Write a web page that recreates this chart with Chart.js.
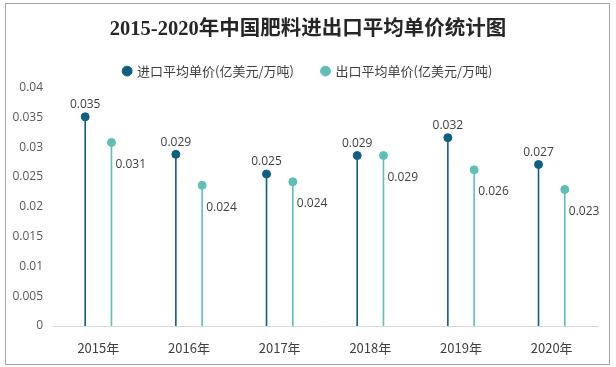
<!DOCTYPE html>
<html>
<head>
<meta charset="utf-8">
<script src="https://cdn.jsdelivr.net/npm/chart.js@4/dist/chart.umd.min.js"></script>
<style>
  html, body { margin: 0; padding: 0; background: #fff; }
  #wrap { position: relative; width: 616px; height: 367px; }
  #frame { position: absolute; left: 5px; top: 3px; width: 603px; height: 360px; border: 1px solid #a6a6a6; pointer-events: none; }
</style>
</head>
<body>
<div id="wrap">
  <canvas id="myChart" width="616" height="367"></canvas>
  <div id="frame"></div>
</div>
<script>
// data
let years = ['2015年', '2016年', '2017年', '2018年', '2019年', '2020年'];
let importPrice = [0.0351, 0.0288, 0.0255, 0.0286, 0.0316, 0.0271];
let exportPrice = [0.0308, 0.0236, 0.0242, 0.0286, 0.0262, 0.0229];
let importLabels = ['0.035', '0.029', '0.025', '0.029', '0.032', '0.027'];
let exportLabels = ['0.031', '0.024', '0.024', '0.029', '0.026', '0.023'];
let yTicks = [0, 0.005, 0.01, 0.015, 0.02, 0.025, 0.03, 0.035, 0.04];

const IMPORT_NAME = '进口平均单价(亿美元/万吨)';
const EXPORT_NAME = '出口平均单价(亿美元/万吨)';
const DARK = '#0f5f80';
const LIGHT = '#5fbfb6';
const SHIFT = 0.145; // stems sit this far left/right of the year, in category units

function toPoints(arr, dx) {
    return arr.map(function (v, i) { return { x: i + dx, y: v }; });
}

// stems: vertical segment from 0 up to the value, gap between years
function toStems(arr, dx) {
    let out = [];
    arr.forEach(function (v, i) {
        out.push({ x: i + dx, y: 0 }, { x: i + dx, y: v }, { x: i + dx, y: null });
    });
    return out;
}

// value labels next to the dots
const valueLabels = {
    id: 'valueLabels',
    afterDatasetsDraw(chart) {
        const ctx = chart.ctx;
        ctx.save();
        ctx.font = '12px "Open Sans", "Noto Sans", sans-serif';
        ctx.fillStyle = '#404040';
        chart.getDatasetMeta(0).data.forEach(function (pt, i) {
            ctx.textAlign = 'center';
            ctx.textBaseline = 'bottom';
            ctx.fillText(importLabels[i], pt.x, pt.y - 6);
        });
        chart.getDatasetMeta(1).data.forEach(function (pt, i) {
            ctx.textAlign = 'left';
            ctx.textBaseline = 'middle';
            ctx.fillText(exportLabels[i], pt.x + 4, pt.y + 22);
        });
        ctx.restore();
    }
};

var ctx = document.getElementById('myChart');
var myChart = new Chart(ctx, {
    type: 'line',
    data: {
        datasets: [
            { label: IMPORT_NAME, data: toPoints(importPrice, -SHIFT), showLine: false,
              pointRadius: 4, pointBackgroundColor: DARK, pointBorderColor: DARK,
              backgroundColor: DARK, borderColor: DARK, order: 0 },
            { label: EXPORT_NAME, data: toPoints(exportPrice, SHIFT), showLine: false,
              pointRadius: 4, pointBackgroundColor: LIGHT, pointBorderColor: LIGHT,
              backgroundColor: LIGHT, borderColor: LIGHT, order: 1 },
            { label: 'stem1', data: toStems(importPrice, -SHIFT), borderColor: DARK,
              borderWidth: 1.6, pointRadius: 0, spanGaps: false, order: 2 },
            { label: 'stem2', data: toStems(exportPrice, SHIFT), borderColor: LIGHT,
              borderWidth: 1.6, pointRadius: 0, spanGaps: false, order: 3 }
        ]
    },
    options: {
        responsive: false,
        animation: false,
        events: [],
        layout: { padding: { left: 0, right: 0, top: 17, bottom: 11 } },
        plugins: {
            title: {
                display: true,
                text: '2015-2020年中国肥料进出口平均单价统计图',
                color: '#262626',
                font: { family: '"Liberation Serif", "Noto Sans CJK SC", serif', size: 20.5, weight: 'bold' },
                padding: { top: 0, bottom: -5 }
            },
            legend: {
                labels: {
                    filter: function (item) { return item.datasetIndex < 2; },
                    usePointStyle: true,
                    pointStyle: 'circle',
                    boxWidth: 7,
                    boxHeight: 7,
                    padding: 28,
                    color: '#404040',
                    font: { family: '"Noto Sans CJK SC", sans-serif', size: 13 }
                }
            },
            tooltip: { enabled: false }
        },
        scales: {
            x: {
                type: 'linear',
                min: -0.5,
                max: years.length - 0.5,
                afterBuildTicks: function (scale) {
                    scale.ticks = years.map(function (y, i) { return { value: i }; });
                },
                afterFit: function (scale) { scale.height = 30; },
                grid: { display: false, drawTicks: false },
                border: { display: true, color: '#d9d9d9' },
                ticks: { color: '#404040', padding: 14, maxRotation: 0, autoSkip: false,
                         font: { family: '"Noto Sans CJK SC", sans-serif', size: 13 },
                         callback: function (v) { return years[v]; } }
            },
            y: {
                min: 0,
                max: 0.04,
                afterFit: function (scale) { scale.width = 53; },
                afterBuildTicks: function (scale) {
                    scale.ticks = yTicks.map(function (v) { return { value: v }; });
                },
                grid: { display: false, drawTicks: false },
                border: { display: false },
                ticks: {
                    padding: 10,
                    color: '#595959',
                    font: { family: '"Open Sans", "Noto Sans", sans-serif', size: 12 },
                    callback: function (v) { return String(+v.toFixed(3)); }
                }
            },
            yRight: {
                position: 'right',
                min: 0,
                max: 0.04,
                afterFit: function (scale) { scale.width = 19; },
                grid: { display: false, drawTicks: false },
                border: { display: false },
                ticks: { display: false }
            }
        }
    },
    plugins: [valueLabels]
});
</script>
</body>
</html>
